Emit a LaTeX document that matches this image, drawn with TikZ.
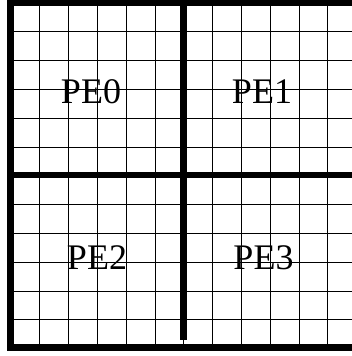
\documentclass[tikz,border=0pt]{standalone}
\usepackage{fontspec}
\setmainfont{Liberation Serif}
\begin{document}
\begin{tikzpicture}[x=1pt,y=-1pt,
  thin grid/.style={line width=0.8pt,black},
  thick wall/.style={line width=6.8pt,black},
  pelabel/.style={anchor=base,inner sep=0pt,font=\fontsize{36}{40}\selectfont}]
\useasboundingbox (0,0) rectangle (352,356);
% thin grid
\foreach \k in {1,...,11} {
  \draw[thin grid] ({11+28.8*\k},0) -- ({11+28.8*\k},348.6);
  \draw[thin grid] (11,{3+28.8*\k}) -- (352,{3+28.8*\k});
}
% thick walls
\draw[thick wall] (10.6,0) -- (10.6,351.2);
\draw[thick wall] (7.2,2.7) -- (352,2.7);
\draw[thick wall] (7.2,347.7) -- (352,347.7);
\draw[thick wall] (7.2,175) -- (352,175);
\draw[thick wall] (183.7,0) -- (183.7,340.3);
% labels
\node[pelabel] (pe0) at (91,103.5) {PE0};
\node[pelabel] (pe1) at (262,103.5) {PE1};
\node[pelabel] (pe2) at (97,269.5) {PE2};
\node[pelabel] (pe3) at (263.5,269.5) {PE3};
\end{tikzpicture}
\end{document}
